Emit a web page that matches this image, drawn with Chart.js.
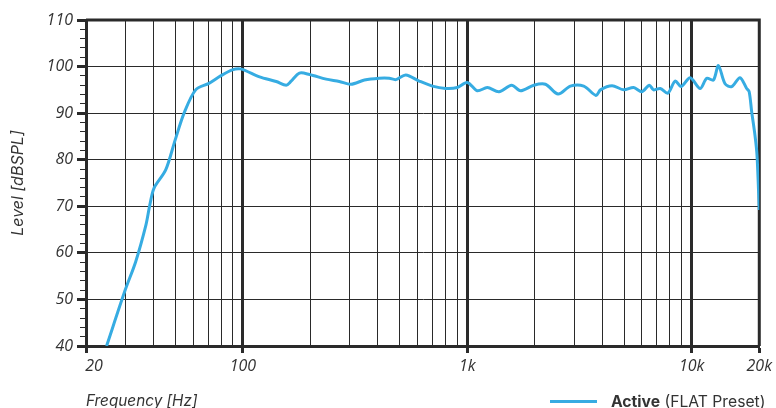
<!DOCTYPE html>
<html>
<head>
<meta charset="utf-8">
<script src="https://cdn.jsdelivr.net/npm/chart.js@4/dist/chart.umd.min.js"></script>
<style>
  html, body { margin: 0; padding: 0; background: #fff; }
  #wrap { position: relative; width: 776px; height: 408px; }
  #legend { position: absolute; left: 550px; top: 391px; height: 20px; display: flex; align-items: center;
            font-family: Inter, "Open Sans", sans-serif; font-size: 15.7px; color: #333; white-space: nowrap; }
  #legend .swatch { width: 47px; height: 3px; background: #36ace2; margin-right: 14px; }
</style>
</head>
<body>
<div id="wrap">
  <canvas id="c" width="776" height="408"></canvas>
  <div id="legend"><span class="swatch"></span><span><b>Active</b> (FLAT Preset)</span></div>
</div>
<script>
// ---- data ----
const seriesName = "Active (FLAT Preset)";
const freqs = [24.7, 29.9, 33.3, 37.0, 38.5, 40.2, 45.3, 49.9, 54.7, 61.6, 70.6, 79.6, 89.7, 97.6,
  118.7, 140.8, 156, 163.6, 178.7, 198, 235, 269, 303, 348, 405, 449, 481, 532, 610, 699, 801, 903,
  1000, 1108, 1228, 1384, 1575, 1726, 1980, 2230, 2539, 2879, 3303, 3746, 3918, 4415, 4972, 5509,
  6000, 6468, 6761, 7236, 7826, 8441, 8975, 9843, 10900, 11670, 12500, 13150, 14080, 15070, 16410,
  17570, 18030, 18500, 19130, 19540, 20000];
const levels = [40.0, 52.0, 58.1, 66.0, 70.3, 73.9, 77.8, 84.2, 90.0, 95.0, 96.4, 98.0, 99.3, 99.5,
  97.8, 96.8, 96.0, 96.8, 98.6, 98.3, 97.3, 96.8, 96.2, 97.1, 97.5, 97.5, 97.2, 98.2, 96.9, 95.8, 95.3, 95.5,
  96.6, 94.8, 95.5, 94.6, 96.0, 94.8, 96.0, 96.2, 94.1, 95.8, 95.8, 93.8, 95.0, 95.9, 95.0, 95.5,
  94.6, 96.0, 95.0, 95.3, 94.3, 96.9, 95.7, 97.6, 95.3, 97.5, 97.1, 100.2, 96.3, 95.7, 97.6,
  95.3, 94.6, 90.3, 85.3, 81.0, 69.2];
const xGridValues = [20, 30, 40, 50, 60, 70, 80, 90, 100, 200, 300, 400, 500, 600, 700, 800, 900,
  1000, 2000, 3000, 4000, 5000, 6000, 7000, 8000, 9000, 10000, 20000];
const xTickLabels = { 20: "\u200320", 100: "100", 1000: "1k", 10000: "10k", 20000: "20k" };
const xMajorLines = [100, 1000, 10000];
const yTickValues = [40, 42, 44, 46, 48, 50, 52, 54, 56, 58, 60, 62, 64, 66, 68, 70, 72, 74, 76, 78,
  80, 82, 84, 86, 88, 90, 92, 94, 96, 98, 100, 102, 104, 106, 108, 110];
const yLabelStep = 10;

// ---- chart ----
const ink = '#2a2a2a';
const textCol = '#333';
const blue = '#36ace2';
const fam = '"Open Sans", Inter, sans-serif';
const famTitle = 'Inter, "Open Sans", sans-serif';

const framePlugin = {
  id: 'frame',
  beforeDatasetsDraw(chart) {
    const a = chart.chartArea, ctx = chart.ctx;
    ctx.save();
    ctx.strokeStyle = ink;
    ctx.lineWidth = 3;
    ctx.beginPath();
    ctx.moveTo(a.left, a.top);
    ctx.lineTo(a.right, a.top);
    ctx.lineTo(a.right, a.bottom);
    ctx.stroke();
    ctx.restore();
  }
};

new Chart(document.getElementById('c'), {
  type: 'line',
  data: {
    datasets: [{
      label: seriesName,
      data: freqs.map((f, i) => ({ x: f, y: levels[i] })),
      borderColor: blue,
      borderWidth: 3,
      pointRadius: 0,
      tension: 0.3,
      fill: false
    }]
  },
  plugins: [framePlugin],
  options: {
    responsive: false,
    animation: false,
    layout: { padding: { top: 20, right: 14, left: 0, bottom: 0 } },
    plugins: { legend: { display: false }, tooltip: { enabled: false } },
    scales: {
      x: {
        type: 'logarithmic',
        min: 20, max: 20000,
        afterBuildTicks: s => { s.ticks = xGridValues.map(v => ({ value: v })); },
        afterFit: s => { s.height = 62; },
        border: { display: true, color: ink, width: 3 },
        grid: {
          color: c => (c.tick && (c.tick.value === 20 || c.tick.value === 20000)) ? 'rgba(0,0,0,0)' : ink,
          lineWidth: c => (c.tick && xMajorLines.includes(c.tick.value)) ? 3 : 1,
          tickColor: c => (c.tick && xTickLabels[c.tick.value] !== undefined) ? ink : 'rgba(0,0,0,0)',
          tickWidth: 3,
          tickLength: 7,
          drawTicks: true
        },
        ticks: {
          autoSkip: false, maxRotation: 0, minRotation: 0,
          padding: 4,
          color: textCol,
          font: { family: fam, size: 16, style: 'italic' },
          callback: v => xTickLabels[v] !== undefined ? xTickLabels[v] : ''
        },
        title: {
          display: true, text: 'Frequency [Hz]', align: 'start',
          color: textCol, font: { family: famTitle, size: 15.3, style: 'italic' },
          padding: { top: 0, bottom: -3 }
        }
      },
      y: {
        min: 40, max: 110,
        afterBuildTicks: s => { s.ticks = yTickValues.map(v => ({ value: v })); },
        afterFit: s => { s.width = 86; },
        border: { display: true, color: ink, width: 3 },
        grid: {
          color: c => (c.tick && c.tick.value % yLabelStep === 0) ? ink : 'rgba(0,0,0,0)',
          lineWidth: 1,
          tickColor: ink,
          tickLength: 9,
          tickWidth: c => (c.tick && c.tick.value % yLabelStep === 0) ? 3 : 1,
          tickBorderDash: c => (c.tick && c.tick.value % yLabelStep === 0) ? [] : [0, 3, 6, 100],
          drawTicks: true
        },
        ticks: {
          autoSkip: false,
          padding: 4,
          color: textCol,
          font: { family: fam, size: 16, style: 'italic' },
          callback: v => (v % yLabelStep === 0) ? String(v) : ''
        },
        title: {
          display: true, text: 'Level [dBSPL]',
          color: textCol, font: { family: famTitle, size: 16, style: 'italic' },
          padding: { top: 9, bottom: 0 }
        }
      }
    }
  }
});
</script>
</body>
</html>
